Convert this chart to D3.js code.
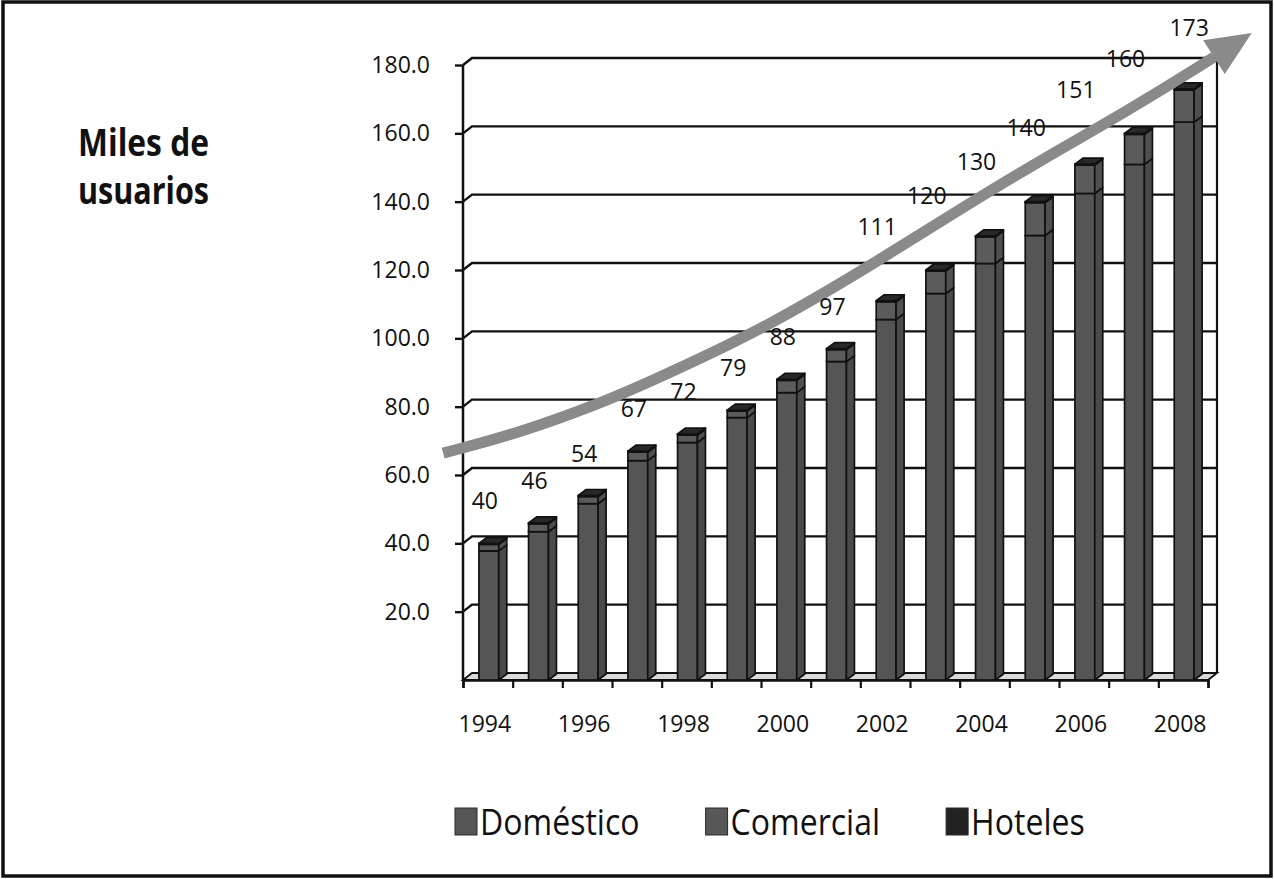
<!DOCTYPE html>
<html>
<head>
<meta charset="utf-8">
<script src="https://cdn.jsdelivr.net/npm/d3@7"></script>
<style>
  body { margin: 0; background: #fff; }
  text { font-family: 'Open Sans', sans-serif; fill: #111; }
</style>
</head>
<body>
<svg id="chart" width="1274" height="879"></svg>
<script>
const years = [1994, 1995, 1996, 1997, 1998, 1999, 2000, 2001, 2002, 2003, 2004, 2005, 2006, 2007, 2008]
const domestico = [37.8, 43.4, 51.6, 64.2, 69.5, 76.8, 84.1, 93.2, 105.5, 113.1, 121.9, 130.1, 142.4, 150.9, 163.3]
const comercial = [1.9, 2.3, 2.1, 2.5, 2.2, 1.9, 3.6, 3.5, 5.2, 6.6, 7.8, 9.6, 8.3, 8.8, 9.4]
const hoteles = [0.3, 0.3, 0.3, 0.3, 0.3, 0.3, 0.3, 0.3, 0.3, 0.3, 0.3, 0.3, 0.3, 0.3, 0.3]
const seriesNames = ['Doméstico', 'Comercial', 'Hoteles']
const yTicks = [20, 40, 60, 80, 100, 120, 140, 160, 180]
const xTickLabels = [1994, 1996, 1998, 2000, 2002, 2004, 2006, 2008]

// trend arrow drawn over the bars (year, miles de usuarios)
const trendYears = [1993.10, 1994.65, 1996.26, 1997.06, 1999.48, 2001.90, 2003.51, 2005.32, 2006.32, 2007.33, 2008.62]
const trendValues = [66.4, 72.4, 81.0, 86.0, 102.0, 123.0, 137.9, 153.7, 161.9, 170.6, 182.3]
const trendTip = [2009.38, 189.4]

const svg = d3.select('#chart')

const x0 = 463, x1 = 1208, yBottom = 680, yTop = 65
const wallDX = 9, wallDY = -7
const barDX = 8, barDY = -6

const x = d3.scaleBand().domain(years).range([x0, x1]).paddingInner(0.6).paddingOuter(0.3)
const xYear = d3.scaleLinear().domain([1993.5, 2008.5]).range([x0, x1])
const y = d3.scaleLinear().domain([0, 180]).range([yBottom, yTop])

// frame
svg.append('rect')
    .attr('x', 3).attr('y', 2).attr('width', 1268).attr('height', 874)
    .attr('fill', '#fff').attr('stroke', '#111').attr('stroke-width', 3.5)

// axis title
const title = svg.append('text').attr('font-weight', 700).attr('font-size', 37)
title.append('tspan').attr('x', 78).attr('y', 156).attr('textLength', 131).attr('lengthAdjust', 'spacingAndGlyphs').text('Miles de')
title.append('tspan').attr('x', 78).attr('y', 204).attr('textLength', 131).attr('lengthAdjust', 'spacingAndGlyphs').text('usuarios')

// gridlines (back wall)
svg.append('g').attr('id', 'grid')
    .selectAll('path').data(yTicks).enter()
    .append('path')
    .attr('d', d => `M${x0},${y(d)} L${x0 + wallDX},${y(d) + wallDY} L${x1 + wallDX},${y(d) + wallDY}`)
    .attr('fill', 'none').attr('stroke', '#111').attr('stroke-width', 2.4)

// right wall edge
svg.append('line')
    .attr('x1', x1 + wallDX).attr('x2', x1 + wallDX)
    .attr('y1', y(180) + wallDY).attr('y2', y(0) + wallDY)
    .attr('stroke', '#111').attr('stroke-width', 2.2)

// floor
svg.append('path')
    .attr('d', `M${x0},${y(0)} L${x1},${y(0)} L${x1 + wallDX},${y(0) + wallDY} L${x0 + wallDX},${y(0) + wallDY} Z`)
    .attr('fill', '#dadada').attr('stroke', '#111').attr('stroke-width', 1.8)

// y axis
const yaxis = d3.axisLeft(y).tickValues(yTicks).tickFormat(d3.format('.1f')).tickSize(8).tickPadding(25)
const yaxisGroup = svg.append('g').attr('class', 'yaxis').attr('transform', `translate(${x0},0)`).call(yaxis)
yaxisGroup.selectAll('.domain').remove()
yaxisGroup.selectAll('.tick line').attr('stroke', '#111').attr('stroke-width', 2.4)
yaxisGroup.selectAll('.tick text').attr('font-size', 23).attr('fill', '#111').attr('font-family', "'Open Sans', sans-serif")
svg.append('line')
    .attr('x1', x0).attr('x2', x0).attr('y1', y(180)).attr('y2', y(0))
    .attr('stroke', '#111').attr('stroke-width', 2.5)

// x axis: boundary ticks + centred year labels
const boundaries = d3.range(1993.5, 2009, 1)
const xaxis = d3.axisBottom(xYear).tickValues(boundaries).tickSize(8).tickFormat('')
const xaxisGroup = svg.append('g').attr('class', 'xaxis').attr('transform', `translate(0,${yBottom})`).call(xaxis)
xaxisGroup.selectAll('.domain').attr('stroke', '#111').attr('stroke-width', 2.5)
xaxisGroup.selectAll('.tick line').attr('stroke', '#111').attr('stroke-width', 2.2)

const xlabels = d3.axisBottom(x).tickValues(xTickLabels).tickSize(0).tickPadding(36)
const xlabelGroup = svg.append('g').attr('transform', `translate(0,${yBottom})`).call(xlabels)
xlabelGroup.selectAll('.domain').remove()
xlabelGroup.selectAll('.tick text').attr('font-size', 23).attr('fill', '#111').attr('dx', -3)
    .attr('font-family', "'Open Sans', sans-serif")

// stacked 3d bars
const rows = years.map((yr, i) => ({ year: yr, 'Doméstico': domestico[i], 'Comercial': comercial[i], 'Hoteles': hoteles[i] }))
const stacked = d3.stack().keys(seriesNames)(rows)
const front = { 'Doméstico': '#555555', 'Comercial': '#5b5b5b', 'Hoteles': '#242424' }
const side = { 'Doméstico': '#4a4a4a', 'Comercial': '#4f4f4f', 'Hoteles': '#1e1e1e' }
const bw = x.bandwidth()

const bars = svg.append('g').attr('id', 'bars')
years.forEach((yr, i) => {
    const g = bars.append('g')
    const xl = x(yr) + 1, xr = xl + bw
    stacked.forEach(s => {
        const lo = y(s[i][0]), hi = y(s[i][1])
        g.append('rect')
            .attr('x', xl).attr('y', hi).attr('width', bw).attr('height', lo - hi)
            .attr('fill', front[s.key]).attr('stroke', '#111').attr('stroke-width', 1.7)
        g.append('path')
            .attr('d', `M${xr},${hi} L${xr + barDX},${hi + barDY} L${xr + barDX},${lo + barDY} L${xr},${lo} Z`)
            .attr('fill', side[s.key]).attr('stroke', '#111').attr('stroke-width', 1.7).attr('stroke-linejoin', 'round')
    })
    const top = y(stacked[stacked.length - 1][i][1])
    g.append('path')
        .attr('d', `M${xl},${top} L${xl + barDX},${top + barDY} L${xr + barDX},${top + barDY} L${xr},${top} Z`)
        .attr('fill', '#282828').attr('stroke', '#111').attr('stroke-width', 1.7).attr('stroke-linejoin', 'round')
})

// trend arrow
const trendPts = trendYears.map((t, i) => [xYear(t), y(trendValues[i])])
const line = d3.line().curve(d3.curveBasis)
svg.append('path')
    .attr('d', line(trendPts))
    .attr('fill', 'none').attr('stroke', '#8a8a8a').attr('stroke-width', 11)

const base = trendPts[trendPts.length - 1]
const tip = [xYear(trendTip[0]), y(trendTip[1])]
const len = Math.hypot(tip[0] - base[0], tip[1] - base[1])
const ux = (tip[0] - base[0]) / len, uy = (tip[1] - base[1]) / len
const half = 20
svg.append('path')
    .attr('d', `M${tip[0]},${tip[1]} L${base[0] - uy * half},${base[1] + ux * half} L${base[0] + uy * half},${base[1] - ux * half} Z`)
    .attr('fill', '#8a8a8a')

// total labels, below the arrow under 100 and above it after
const totals = years.map((yr, i) => Math.round(domestico[i] + comercial[i] + hoteles[i]))
svg.append('g').attr('id', 'totals')
    .selectAll('text').data(totals).enter()
    .append('text')
    .attr('x', (d, i) => x(years[i]) + bw / 2 + (d < 100 ? -3 : -8) + (d > 170 ? 14 : 0))
    .attr('y', d => Math.max(36, y(d) - (d < 100 ? 34 : 66)))
    .attr('text-anchor', 'middle')
    .attr('font-size', 23)
    .text(d => d)

// legend
const legend = svg.append('g').attr('id', 'legend')
const legendFill = { 'Doméstico': '#555555', 'Comercial': '#585858', 'Hoteles': '#222222' }
let lx = 455
seriesNames.forEach(name => {
    legend.append('rect')
        .attr('x', lx).attr('y', 808).attr('width', 22).attr('height', 27)
        .attr('fill', legendFill[name]).attr('stroke', '#2a2a2a').attr('stroke-width', 1)
    const t = legend.append('text')
        .attr('x', lx + 25).attr('y', 835)
        .attr('font-size', 36)
        .text(name)
    const w = t.node().getComputedTextLength() * 0.89
    t.attr('textLength', w).attr('lengthAdjust', 'spacingAndGlyphs')
    lx += 25 + w + 66
})
</script>
</body>
</html>
